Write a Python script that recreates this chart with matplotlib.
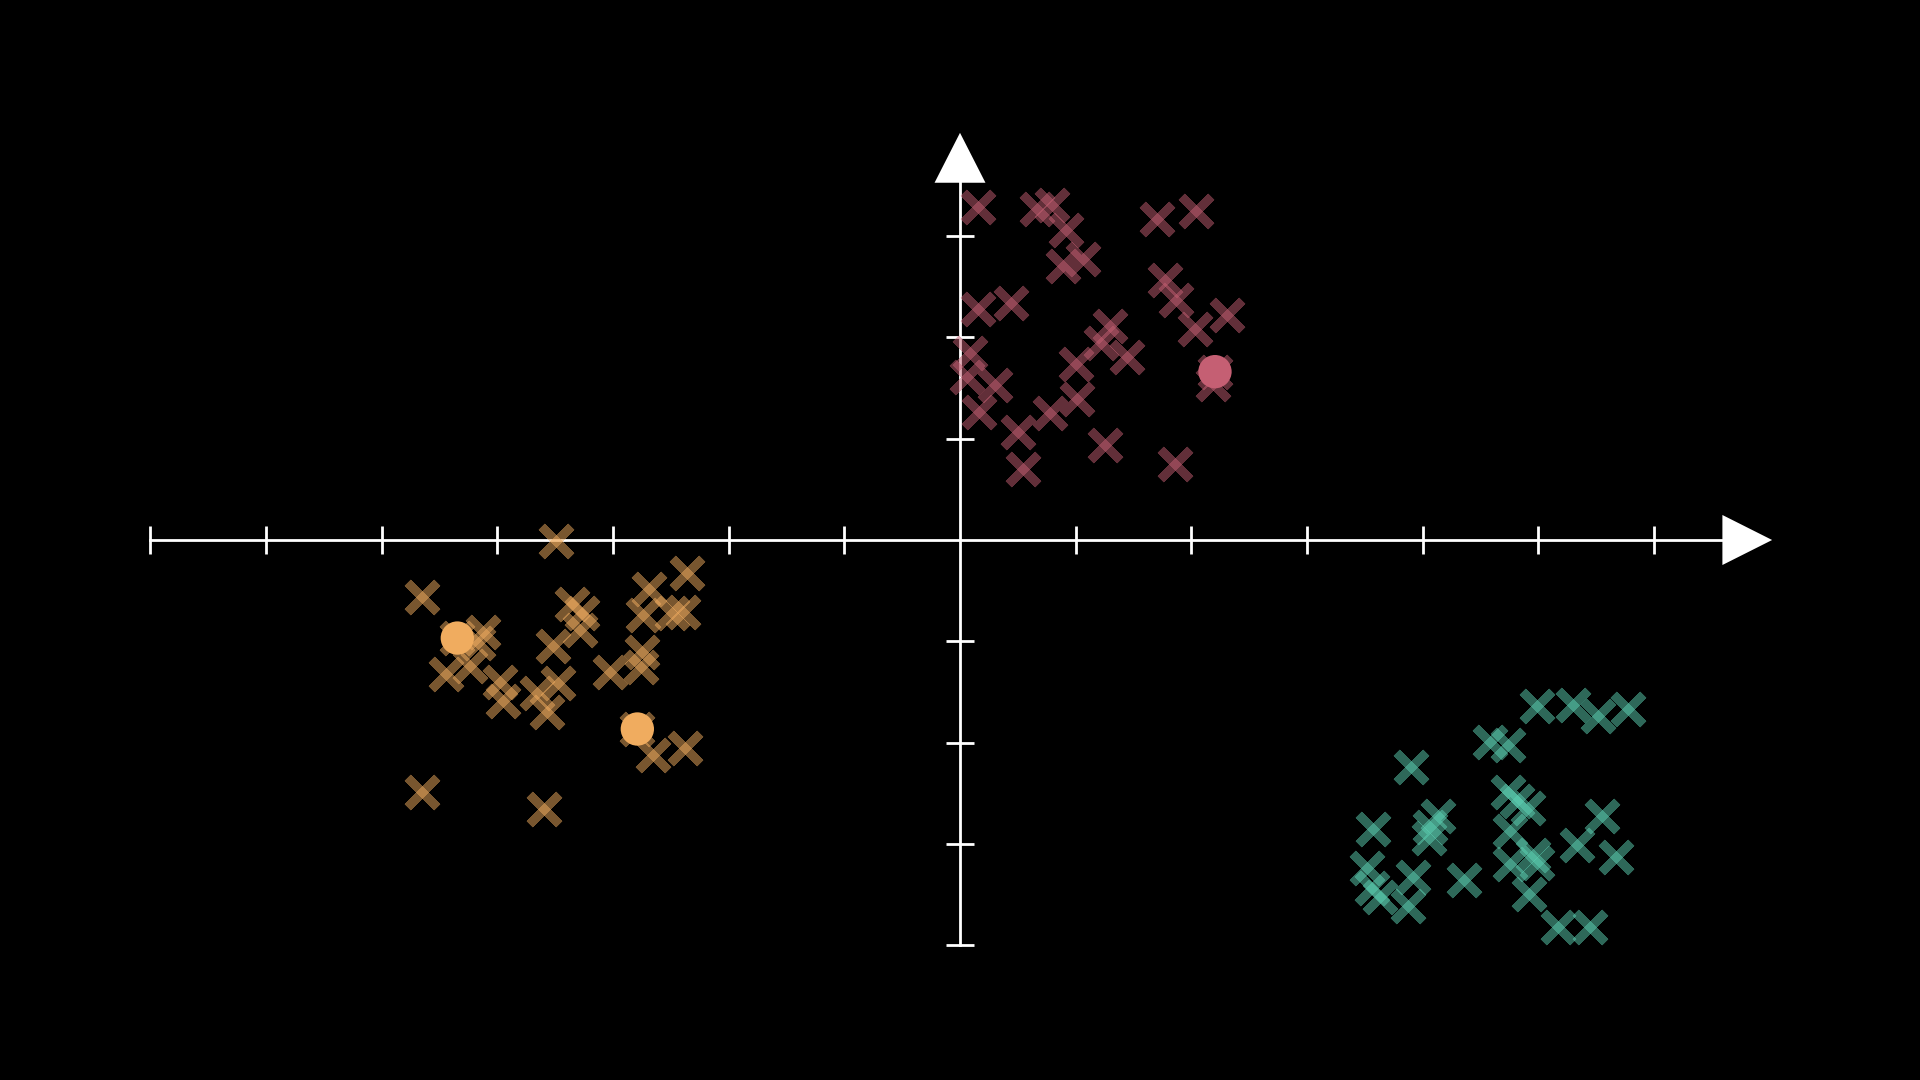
import numpy as np
import matplotlib
matplotlib.use('Agg')  # headless
import matplotlib.pyplot as plt

# cluster points (axis units: 1 tick = 1)
red_x = [0.153, 0.668, 0.793, 0.916, 0.888, 1.066, 1.705, 2.037, 1.775, 1.867,
         2.305, 2.031, 0.158, 0.438, 1.297, 1.216, 1.446, 1.003, 0.086, 0.063,
         0.303, 0.167, 1.009, 0.778, 0.504, 1.253, 0.547, 1.858, 2.190, 2.204]
red_y = [3.291, 3.265, 3.307, 3.061, 2.705, 2.771, 3.169, 3.251, 2.567, 2.369,
         2.221, 2.080, 2.278, 2.337, 2.116, 1.948, 1.804, 1.735, 1.843, 1.612,
         1.530, 1.267, 1.389, 1.251, 1.069, 0.938, 0.698, 0.750, 1.540, 1.662]

orange_x = [-3.495, -4.653, -4.345, -4.120, -4.164, -4.236, -4.446, -3.976, -3.953, -3.356,
            -3.270, -3.285, -3.521, -3.659, -3.472, -3.567, -3.025, -2.751, -2.760, -2.686,
            -2.362, -2.737, -2.492, -2.392, -2.789, -2.651, -2.377, -4.653, -3.593]
orange_y = [-0.007, -0.560, -0.968, -0.905, -1.020, -1.244, -1.326, -1.399, -1.590, -0.632,
            -0.724, -0.889, -1.047, -1.513, -1.409, -1.701, -1.300, -1.103, -1.251, -0.487,
            -0.323, -0.740, -0.724, -0.708, -1.866, -2.123, -2.056, -2.485, -2.659]

teal_x = [4.985, 5.301, 5.517, 5.777, 4.581, 4.739, 3.896, 4.739, 4.812, 4.912,
          3.572, 4.134, 4.063, 4.057, 4.754, 5.547, 5.331, 5.670, 4.956, 4.754,
          4.985, 3.515, 3.913, 4.356, 3.561, 3.630, 3.875, 4.921, 5.172, 5.446]
teal_y = [-1.639, -1.629, -1.738, -1.671, -1.991, -2.024, -2.238, -2.485, -2.577, -2.649,
          -2.856, -2.722, -2.830, -2.945, -2.870, -2.725, -3.011, -3.127, -3.110, -3.199,
          -3.186, -3.241, -3.324, -3.357, -3.436, -3.525, -3.613, -3.495, -3.818, -3.824]

# highlighted points
centers_x = [2.204, -4.345, -2.789]
centers_y = [1.662, -0.968, -1.866]
center_cols = ['#C55F73', '#F0AC5F', '#F0AC5F']

MAROON = '#C55F73'
GOLD = '#F0AC5F'
TEAL = '#5CD0B3'

fig = plt.figure(figsize=(19.2, 10.8), dpi=100)
fig.patch.set_facecolor('black')
ax = fig.add_axes([0, 0, 1, 1])
ax.set_facecolor('black')

# 1 unit = 115.69 px horizontally, 101.29 px vertically, origin at centre
ax.set_xlim(-960 / 115.69, 960 / 115.69)
ax.set_ylim(-540 / 101.29, 540 / 101.29)

# axes with spines through the origin
for s in ['top', 'right']:
    ax.spines[s].set_visible(False)
ax.spines['left'].set_position(('data', 0))
ax.spines['bottom'].set_position(('data', 0))
ax.spines['bottom'].set_bounds(-7, 6.6)
ax.spines['left'].set_bounds(-4, 3.53)
for s in ['left', 'bottom']:
    ax.spines[s].set_color('white')
    ax.spines[s].set_linewidth(2.0)
    ax.spines[s].set_zorder(1)
ax.set_xticks([t for t in range(-7, 7) if t != 0])
ax.set_yticks([t for t in range(-4, 4) if t != 0])
ax.tick_params(direction='inout', length=19.5, width=2.0, color='white',
               labelbottom=False, labelleft=False)

# arrow tips
ax.fill([6.59, 7.02, 6.59], [-0.247, 0, 0.247], color='white', lw=0, zorder=1)
ax.fill([-0.22, 0, 0.22], [3.527, 4.02, 3.527], color='white', lw=0, zorder=1)

# crosses: two strokes each so the middle overlaps like the original
for xs, ys, col in [(red_x, red_y, MAROON), (orange_x, orange_y, GOLD), (teal_x, teal_y, TEAL)]:
    for ang in [45, -45]:
        ax.plot(xs, ys, linestyle='none', marker=(2, 2, ang), ms=30, mew=6.2,
                color=col, alpha=0.5, zorder=2)

ax.scatter(centers_x, centers_y, s=24 ** 2, c=center_cols, linewidths=0, zorder=3)

plt.savefig('out.png', dpi=100, facecolor='black')
plt.close()
